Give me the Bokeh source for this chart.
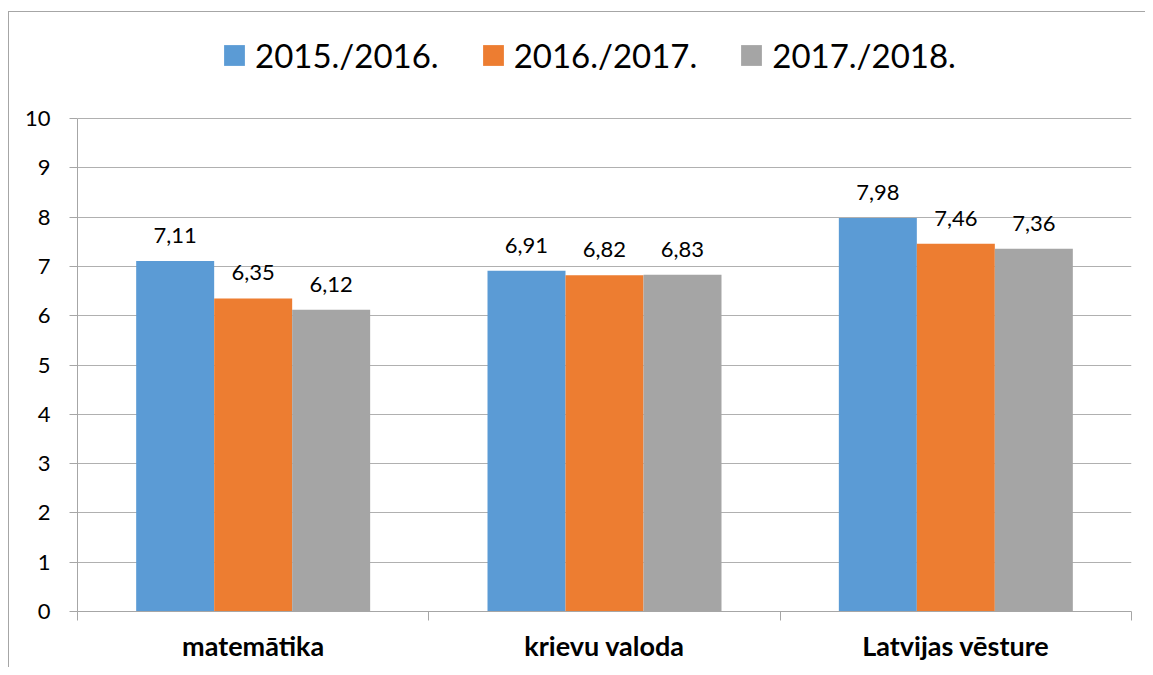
import numpy as np
from bokeh.plotting import figure
from bokeh.models import (ColumnDataSource, Range1d, FixedTicker, Legend, LegendItem, LabelSet)
from bokeh.core.properties import value
from bokeh.embed import file_html
from bokeh.resources import INLINE

categories = ["matemātika", "krievu valoda", "Latvijas vēsture"]
series = ["2015./2016.", "2016./2017.", "2017./2018."]
values_2015 = [7.11, 6.91, 7.98]
values_2016 = [6.35, 6.82, 7.46]
values_2017 = [6.12, 6.83, 7.36]
colors = ["#5B9BD5", "#ED7D31", "#A5A5A5"]
y_ticks = list(range(0, 11))

FONT = "Lato"
bar_w = 0.222
offsets = [-bar_w, 0.0, bar_w]

# the frame extends above the value axis to hold the legend
AXIS_PX = 493          # pixel height of the 0..10 value axis
FRAME_H = 586          # frame height including legend area
y_top = 10 * FRAME_H / AXIS_PX

p = figure(output_backend="svg", toolbar_location=None,
           x_range=Range1d(0, len(categories)), y_range=Range1d(0, y_top),
           frame_width=1054, frame_height=FRAME_H,
           min_border_left=68, min_border_right=14, min_border_top=13, min_border_bottom=56)
p.styles = {"border-left": "1px solid #a6a6a6", "border-top": "1px solid #a6a6a6",
            "margin-top": "11px", "margin-left": "8px"}
p.outline_line_color = None
p.background_fill_color = "white"
p.border_fill_color = "white"

centers = np.arange(len(categories)) + 0.5
items = []
for vals, name, col, off in zip([values_2015, values_2016, values_2017], series, colors, offsets):
    src = ColumnDataSource(dict(x=centers + off, top=vals,
                                lab=[f"{v:.2f}".replace(".", ",") for v in vals]))
    r = p.vbar(x="x", top="top", width=bar_w, bottom=0, source=src,
               fill_color=col, line_color=None)
    items.append(LegendItem(label=name, renderers=[r]))
    labels = LabelSet(x="x", y="top", text="lab", source=src, x_offset=0, y_offset=18,
                      text_align="center", text_baseline="alphabetic",
                      text_font=value(FONT), text_font_size="22px", text_color="black")
    p.add_layout(labels)

legend = Legend(items=items, orientation="horizontal", location=(144, 536),
                label_text_font=FONT, label_text_font_size="33px",
                label_text_color="black",
                glyph_width=26, glyph_height=26, label_standoff=8, spacing=41,
                padding=0, margin=0, border_line_color=None,
                background_fill_alpha=0)
p.add_layout(legend)

# y axis
p.yaxis.ticker = FixedTicker(ticks=y_ticks)
p.yaxis.bounds = (0, 10)
p.yaxis.axis_line_color = "#a6a6a6"
p.yaxis.major_tick_line_color = "#a6a6a6"
p.yaxis.major_tick_out = 8
p.yaxis.major_tick_in = 0
p.yaxis.minor_tick_line_color = None
p.yaxis.major_label_standoff = 19
p.yaxis.major_label_text_font = FONT
p.yaxis.major_label_text_font_size = "22px"
p.yaxis.major_label_text_color = "black"

# x axis: labels at category centers, ticks at category boundaries
p.xaxis.ticker = FixedTicker(ticks=list(centers), minor_ticks=list(range(len(categories) + 1)))
p.xaxis.major_label_overrides = {float(c): cat for c, cat in zip(centers, categories)}
p.xaxis.axis_line_color = "#a6a6a6"
p.xaxis.major_tick_line_color = None
p.xaxis.major_tick_out = 0
p.xaxis.major_tick_in = 0
p.xaxis.minor_tick_line_color = "#a6a6a6"
p.xaxis.minor_tick_out = 9
p.xaxis.minor_tick_in = 0
p.xaxis.major_label_standoff = 8
p.xaxis.major_label_text_font = FONT
p.xaxis.major_label_text_font_style = "bold"
p.xaxis.major_label_text_font_size = "27px"
p.xaxis.major_label_text_color = "black"

p.xgrid.grid_line_color = None
p.ygrid.ticker = FixedTicker(ticks=y_ticks)
p.ygrid.grid_line_color = "#b0b0b0"

open("out.html", "w").write(file_html(p, INLINE))
